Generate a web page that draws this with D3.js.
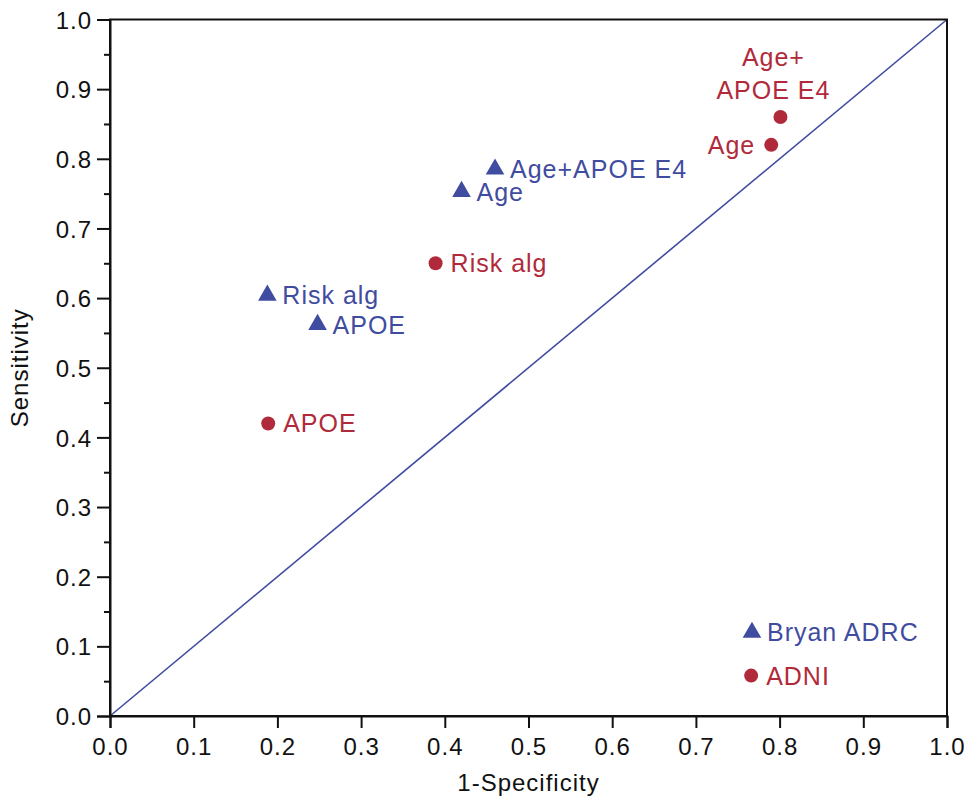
<!doctype html>
<html>
<head>
<meta charset="UTF-8">
<title>Sensitivity vs 1-Specificity</title>
<script src="https://d3js.org/d3.v7.min.js"></script>
<style>
  body { margin: 0; background: #fff; }
  text { font-family: "Liberation Sans", Arial, sans-serif; letter-spacing: 1px; }
</style>
</head>
<body>
<script>
// Bryan ADRC (blue triangles)
var bryanLabels = ["Age+APOE E4", "Age", "Risk alg", "APOE", "Bryan ADRC"];
var bryanX = [0.46, 0.42, 0.188, 0.248, 0.767];
var bryanY = [0.785, 0.753, 0.604, 0.562, 0.12];

// ADNI (red circles)
var adniLabels = ["Age+\nAPOE E4", "Age", "Risk alg", "APOE", "ADNI"];
var adniX = [0.801, 0.79, 0.389, 0.189, 0.766];
var adniY = [0.86, 0.82, 0.65, 0.42, 0.058];

var xTicks = [0, 0.1, 0.2, 0.3, 0.4, 0.5, 0.6, 0.7, 0.8, 0.9, 1.0];
var yTicks = [0, 0.1, 0.2, 0.3, 0.4, 0.5, 0.6, 0.7, 0.8, 0.9, 1.0];
var yMinor = [0.05, 0.15, 0.25, 0.35, 0.45, 0.55, 0.65, 0.75, 0.85, 0.95];

var blue = "#3f4c9f", red = "#b02a3b";
var W = 970, H = 798;
var m = {left: 110, right: 23, top: 19.5, bottom: 82};
var fs = "24px", lfs = "25px";

var svg = d3.select("body").append("svg").attr("width", W).attr("height", H);

var x = d3.scaleLinear().domain([0, 1]).range([m.left, W - m.right]);
var y = d3.scaleLinear().domain([0, 1]).range([H - m.bottom, m.top]);

// diagonal reference
svg.append("line")
  .attr("x1", x(0)).attr("y1", y(0)).attr("x2", x(1)).attr("y2", y(1))
  .attr("stroke", blue).attr("stroke-width", 1.6);

// frame
svg.append("rect")
  .attr("x", x(0)).attr("y", y(1))
  .attr("width", x(1) - x(0)).attr("height", y(0) - y(1))
  .attr("fill", "none").attr("stroke", "#111").attr("stroke-width", 2);

var fmt = d3.format(".1f");

var xAxis = svg.append("g").attr("transform", "translate(0," + y(0) + ")")
  .call(d3.axisBottom(x).tickValues(xTicks).tickFormat(fmt).tickSize(12).tickPadding(10));
var yAxis = svg.append("g").attr("transform", "translate(" + x(0) + ",0)")
  .call(d3.axisLeft(y).tickValues(yTicks).tickFormat(fmt).tickSize(13).tickPadding(5));
svg.append("g").attr("transform", "translate(" + x(0) + ",0)")
  .call(d3.axisLeft(y).tickValues(yMinor).tickFormat("").tickSize(6))
  .select(".domain").remove();

svg.selectAll(".domain").attr("stroke", "#111").attr("stroke-width", 2);
svg.selectAll(".tick line").attr("stroke", "#111").attr("stroke-width", 2);
svg.selectAll(".tick text").attr("fill", "#111").style("font-size", fs);
yAxis.selectAll(".tick text").attr("dy", "0.36em");

// axis titles
svg.append("text").attr("x", x(0.5)).attr("y", 791)
  .attr("text-anchor", "middle").style("font-size", fs).attr("fill", "#111")
  .text("1-Specificity");
svg.append("text")
  .attr("transform", "translate(28," + y(0.5) + ") rotate(-90)")
  .attr("text-anchor", "middle").style("font-size", fs).attr("fill", "#111")
  .text("Sensitivity");

var bryan = bryanLabels.map(function(d, i) { return {label: d, x: bryanX[i], y: bryanY[i]}; });
var adni = adniLabels.map(function(d, i) { return {label: d, x: adniX[i], y: adniY[i]}; });

// blue triangles
svg.selectAll("path.tri").data(bryan).enter().append("path")
  .attr("class", "tri")
  .attr("d", d3.symbol().type(d3.symbolTriangle).size(150))
  .attr("transform", function(d) { return "translate(" + x(d.x) + "," + y(d.y) + ")"; })
  .attr("fill", blue);

svg.selectAll("text.blab").data(bryan).enter().append("text")
  .attr("class", "blab")
  .attr("x", function(d) { return x(d.x) + 15; })
  .attr("y", function(d) { return y(d.y); })
  .attr("dy", "0.36em")
  .style("font-size", lfs).attr("fill", blue)
  .text(function(d) { return d.label; });

// red circles
svg.selectAll("circle.dot").data(adni).enter().append("circle")
  .attr("class", "dot")
  .attr("cx", function(d) { return x(d.x); })
  .attr("cy", function(d) { return y(d.y); })
  .attr("r", 7).attr("fill", red);

// red labels: "Age" sits left, the combined label sits above, the rest right
svg.selectAll("text.rlab").data(adni).enter().append("text")
  .attr("class", "rlab")
  .style("font-size", lfs).attr("fill", red)
  .each(function(d) {
    var t = d3.select(this);
    var lines = d.label.split("\n");
    if (lines.length > 1) {
      t.attr("text-anchor", "middle");
      lines.forEach(function(l, j) {
        t.append("tspan").attr("x", x(d.x) - 7)
          .attr("y", y(d.y) - 51 + j * 33).text(l);
      });
    } else if (d.label === "Age") {
      t.attr("text-anchor", "end").attr("x", x(d.x) - 16).attr("y", y(d.y))
        .attr("dy", "0.36em").text(d.label);
    } else {
      t.attr("x", x(d.x) + 15).attr("y", y(d.y)).attr("dy", "0.36em").text(d.label);
    }
  });
</script>
</body>
</html>
